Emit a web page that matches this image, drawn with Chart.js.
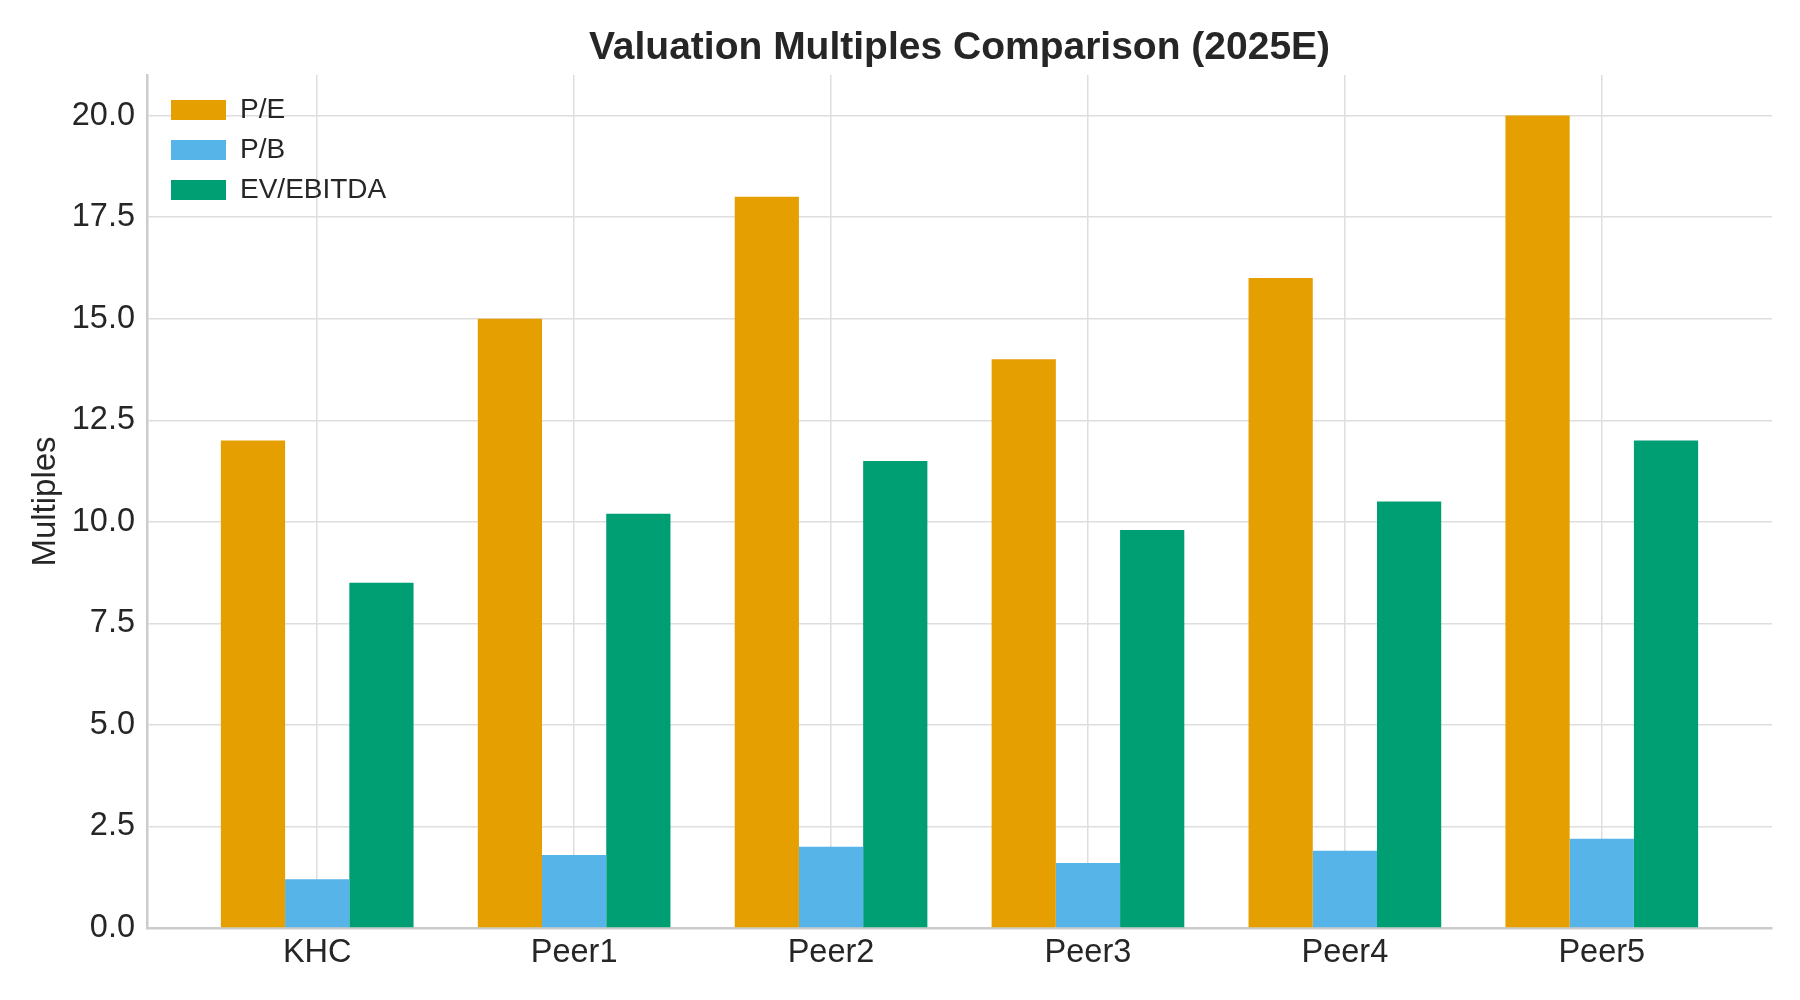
<!DOCTYPE html>
<html>
<head>
<meta charset="utf-8">
<title>Valuation Multiples Comparison (2025E)</title>
<script src="https://cdn.jsdelivr.net/npm/chart.js@4.4.1/dist/chart.umd.min.js"></script>
<style>
    html, body { margin: 0; padding: 0; background: #ffffff; }
    #wrap { width: 1800px; height: 1000px; }
</style>
</head>
<body>
<div id="wrap"><canvas id="multiplesChart" width="1800" height="1000"></canvas></div>
<script>
// Chart data
const companies = ["KHC", "Peer1", "Peer2", "Peer3", "Peer4", "Peer5"];
const peValues = [12.0, 15.0, 18.0, 14.0, 16.0, 20.0];
const pbValues = [1.2, 1.8, 2.0, 1.6, 1.9, 2.2];
const evEbitdaValues = [8.5, 10.2, 11.5, 9.8, 10.5, 12.0];
const yTickValues = [0, 2.5, 5, 7.5, 10, 12.5, 15, 17.5, 20];

const textColor = "#262626";
const fontFamily = "'Liberation Sans', Arial, sans-serif";

// turn a value list into {x, y} points on the numeric x axis
function toPoints(values) {
    return values.map((v, i) => ({ x: i, y: v }));
}

// put the in-plot legend where the reference has it (top-left of the axes)
const legendShift = {
    id: "legendShift",
    afterLayout(chart) {
        const legend = chart.legend;
        if (!legend) return;
        const h = legend.bottom - legend.top;
        legend.left = chart.chartArea.left + 12;
        legend.top = chart.chartArea.top + 9;
        legend.bottom = legend.top + h;
    }
};

document.addEventListener("DOMContentLoaded", function() {
    const ctx = document.getElementById("multiplesChart").getContext("2d");
    new Chart(ctx, {
        type: "bar",
        data: {
            datasets: [
                {
                    label: "P/E",
                    data: toPoints(peValues),
                    backgroundColor: "#E69F00",
                    borderWidth: 0
                },
                {
                    label: "P/B",
                    data: toPoints(pbValues),
                    backgroundColor: "#56B4E9",
                    borderWidth: 0
                },
                {
                    label: "EV/EBITDA",
                    data: toPoints(evEbitdaValues),
                    backgroundColor: "#009E73",
                    borderWidth: 0
                }
            ]
        },
        options: {
            responsive: false,
            devicePixelRatio: 1,
            animation: false,
            categoryPercentage: 0.75,
            barPercentage: 1.0,
            layout: { padding: { left: 0, right: 28, top: 0, bottom: 0 } },
            plugins: {
                title: {
                    display: true,
                    text: "Valuation Multiples Comparison (2025E)",
                    color: textColor,
                    fullSize: false,
                    font: { family: fontFamily, size: 39, weight: "bold" },
                    padding: { top: 24.6, bottom: 3.6 }
                },
                legend: {
                    position: "chartArea",
                    align: "start",
                    labels: {
                        color: textColor,
                        boxWidth: 55,
                        boxHeight: 20,
                        padding: 12,
                        font: { family: fontFamily, size: 28 }
                    }
                },
                tooltip: { enabled: false }
            },
            scales: {
                x: {
                    type: "linear",
                    offset: false,
                    min: -0.6625,
                    max: 5.6625,
                    afterBuildTicks: scale => {
                        scale.ticks = companies.map((_, i) => ({ value: i }));
                    },
                    afterFit: scale => { scale.height = 72; },
                    ticks: {
                        autoSkip: false,
                        maxRotation: 0,
                        padding: 6,
                        color: textColor,
                        font: { family: fontFamily, size: 32.5 },
                        callback: value => companies[value]
                    },
                    grid: { offset: false, color: "#dedede", lineWidth: 1.5, drawTicks: false },
                    border: { display: true, color: "#cccccc", width: 2.5 }
                },
                y: {
                    min: 0,
                    max: 21,
                    afterBuildTicks: scale => {
                        scale.ticks = yTickValues.map(v => ({ value: v }));
                    },
                    afterFit: scale => { scale.width = 147; },
                    ticks: {
                        padding: 12,
                        color: textColor,
                        font: { family: fontFamily, size: 32.5 },
                        callback: value => value.toFixed(1)
                    },
                    grid: { color: "#dedede", lineWidth: 1.5, drawTicks: false },
                    border: { display: true, color: "#cccccc", width: 2.5 },
                    title: {
                        display: true,
                        text: "Multiples",
                        color: textColor,
                        font: { family: fontFamily, size: 33 },
                        padding: { top: 26, bottom: 0 }
                    }
                }
            }
        },
        plugins: [legendShift]
    });
});
</script>
</body>
</html>
